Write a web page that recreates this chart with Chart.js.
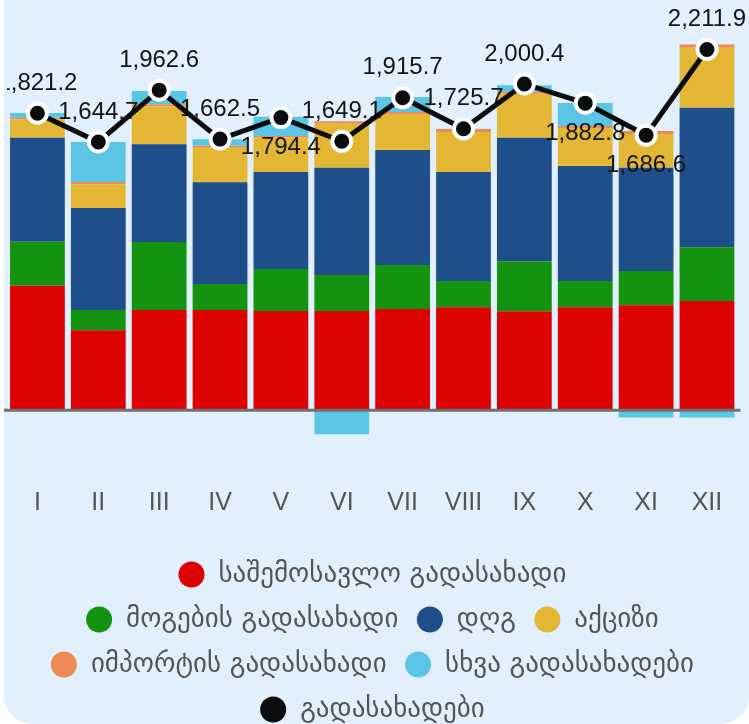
<!DOCTYPE html>
<html>
<head>
<meta charset="utf-8">
<script src="https://cdn.jsdelivr.net/npm/chart.js@4.4.1/dist/chart.umd.min.js"></script>
<style>
html,body{margin:0;padding:0;background:#ffffff;width:749px;height:724px;overflow:hidden}
#box{position:absolute;left:4px;top:-40px;width:745px;height:764px;background:#e2effc;border-radius:28px;overflow:hidden}
#c{position:absolute;left:0;top:40px}
</style>
</head>
<body>
<div id="box"><canvas id="c" width="745" height="733"></canvas></div>
<script>
const months = ['I','II','III','IV','V','VI','VII','VIII','IX','X','XI','XII'];
const incomeTax  = [763, 491, 614, 614, 608, 608, 620, 632, 607, 632, 644, 669];
const profitTax  = [270, 123, 417, 160, 258, 221, 270, 160, 307, 160, 209, 331];
const vat        = [638, 626, 600, 624, 595, 657, 705, 669, 756, 705, 634, 855];
const excise     = [113, 145, 233, 211, 211, 270, 221, 245, 270, 233, 207, 368];
const importTax  = [10, 14, 12, 12, 10, 16, 12, 18, 12, 12, 18, 20];
const otherTaxes = [29, 245, 82, 41, 117, -147, 92, 0, 41, 141, -45, -45];
const totalTaxes = [1821.2, 1644.7, 1962.6, 1662.5, 1794.4, 1649.1, 1915.7, 1725.7, 2000.4, 1882.8, 1686.6, 2211.9];

const seriesNames = ['საშემოსავლო გადასახადი','მოგების გადასახადი','დღგ','აქციზი','იმპორტის გადასახადი','სხვა გადასახადები','გადასახადები'];
const colors = ['#dd0303','#13930f','#1f4f8a','#e3b734','#ee8a55','#5bc5e6','#0b0c0e'];
const labelSide = ['above','above','above','above','below','above','above','above','above','below','below','above'];

const fmt = v => v.toLocaleString('en-US',{minimumFractionDigits:1,maximumFractionDigits:1});
const LATIN = '"Liberation Sans", Arial, "DejaVu Sans", sans-serif';

const overlay = {
  id: 'overlay',
  beforeDatasetDraw(chart, args) {
    if (args.meta.type !== 'line') return;
    const {ctx, chartArea, scales} = chart;
    const y0 = scales.y.getPixelForValue(0);
    ctx.save();
    ctx.strokeStyle = '#6e7176';
    ctx.lineWidth = 3;
    ctx.beginPath();
    ctx.moveTo(chartArea.left - 3, y0);
    ctx.lineTo(chartArea.right + 3, y0);
    ctx.stroke();
    ctx.beginPath();
    ctx.rect(chartArea.left, 0, chart.width - chartArea.left, chart.height);
    ctx.clip();
    ctx.font = '24px ' + LATIN;
    ctx.fillStyle = '#141414';
    ctx.textAlign = 'center';
    ctx.textBaseline = 'middle';
    const data = chart.data.datasets[args.index].data;
    args.meta.data.forEach((pt, i) => {
      const dy = labelSide[i] === 'below' ? 30 : -30;
      ctx.fillText(fmt(data[i]), pt.x, pt.y + dy);
    });
    ctx.restore();
  }
};

const barSets = [incomeTax, profitTax, vat, excise, importTax, otherTaxes].map((d, i) => ({
  type: 'bar',
  label: seriesNames[i],
  data: d,
  backgroundColor: colors[i],
  borderWidth: 0,
  barPercentage: 0.9,
  categoryPercentage: 1.0,
  stack: 'taxes',
  order: 1
}));

const lineSet = {
  type: 'line',
  label: seriesNames[6],
  data: totalTaxes,
  borderColor: colors[6],
  backgroundColor: colors[6],
  borderWidth: 5,
  pointRadius: 9.5,
  pointBackgroundColor: colors[6],
  pointBorderColor: '#ffffff',
  pointBorderWidth: 4,
  tension: 0,
  stack: 'total',
  order: 0
};

new Chart(document.getElementById('c'), {
  data: { labels: months, datasets: [...barSets, lineSet] },
  options: {
    responsive: false,
    animation: false,
    events: [],
    layout: { autoPadding: false, padding: { top: 2.5, left: 3, right: 11.6, bottom: 0 } },
    scales: {
      x: {
        stacked: true,
        grid: { display: false, drawTicks: false },
        border: { display: false },
        ticks: { color: '#555555', font: { size: 25, family: LATIN }, padding: 5 },
        afterFit(scale) { scale.height += 19.4; }
      },
      y: {
        stacked: true,
        display: false,
        min: -450,
        max: 2500
      }
    },
    plugins: {
      tooltip: { enabled: false },
      legend: {
        position: 'bottom',
        labels: {
          usePointStyle: true,
          pointStyle: 'circle',
          boxWidth: 27,
          boxHeight: 18.4,
          padding: 18,
          color: '#555555',
          font: { size: 27, family: '"DejaVu Sans", sans-serif' },
          sort: (a, b) => a.datasetIndex - b.datasetIndex,
          generateLabels(chart) {
            return Chart.defaults.plugins.legend.labels.generateLabels(chart).map(it => {
              it.pointStyle = 'circle';
              it.lineWidth = 0;
              it.strokeStyle = 'rgba(0,0,0,0)';
              it.fillStyle = colors[it.datasetIndex];
              return it;
            });
          }
        }
      }
    }
  },
  plugins: [overlay]
});
</script>
</body>
</html>
